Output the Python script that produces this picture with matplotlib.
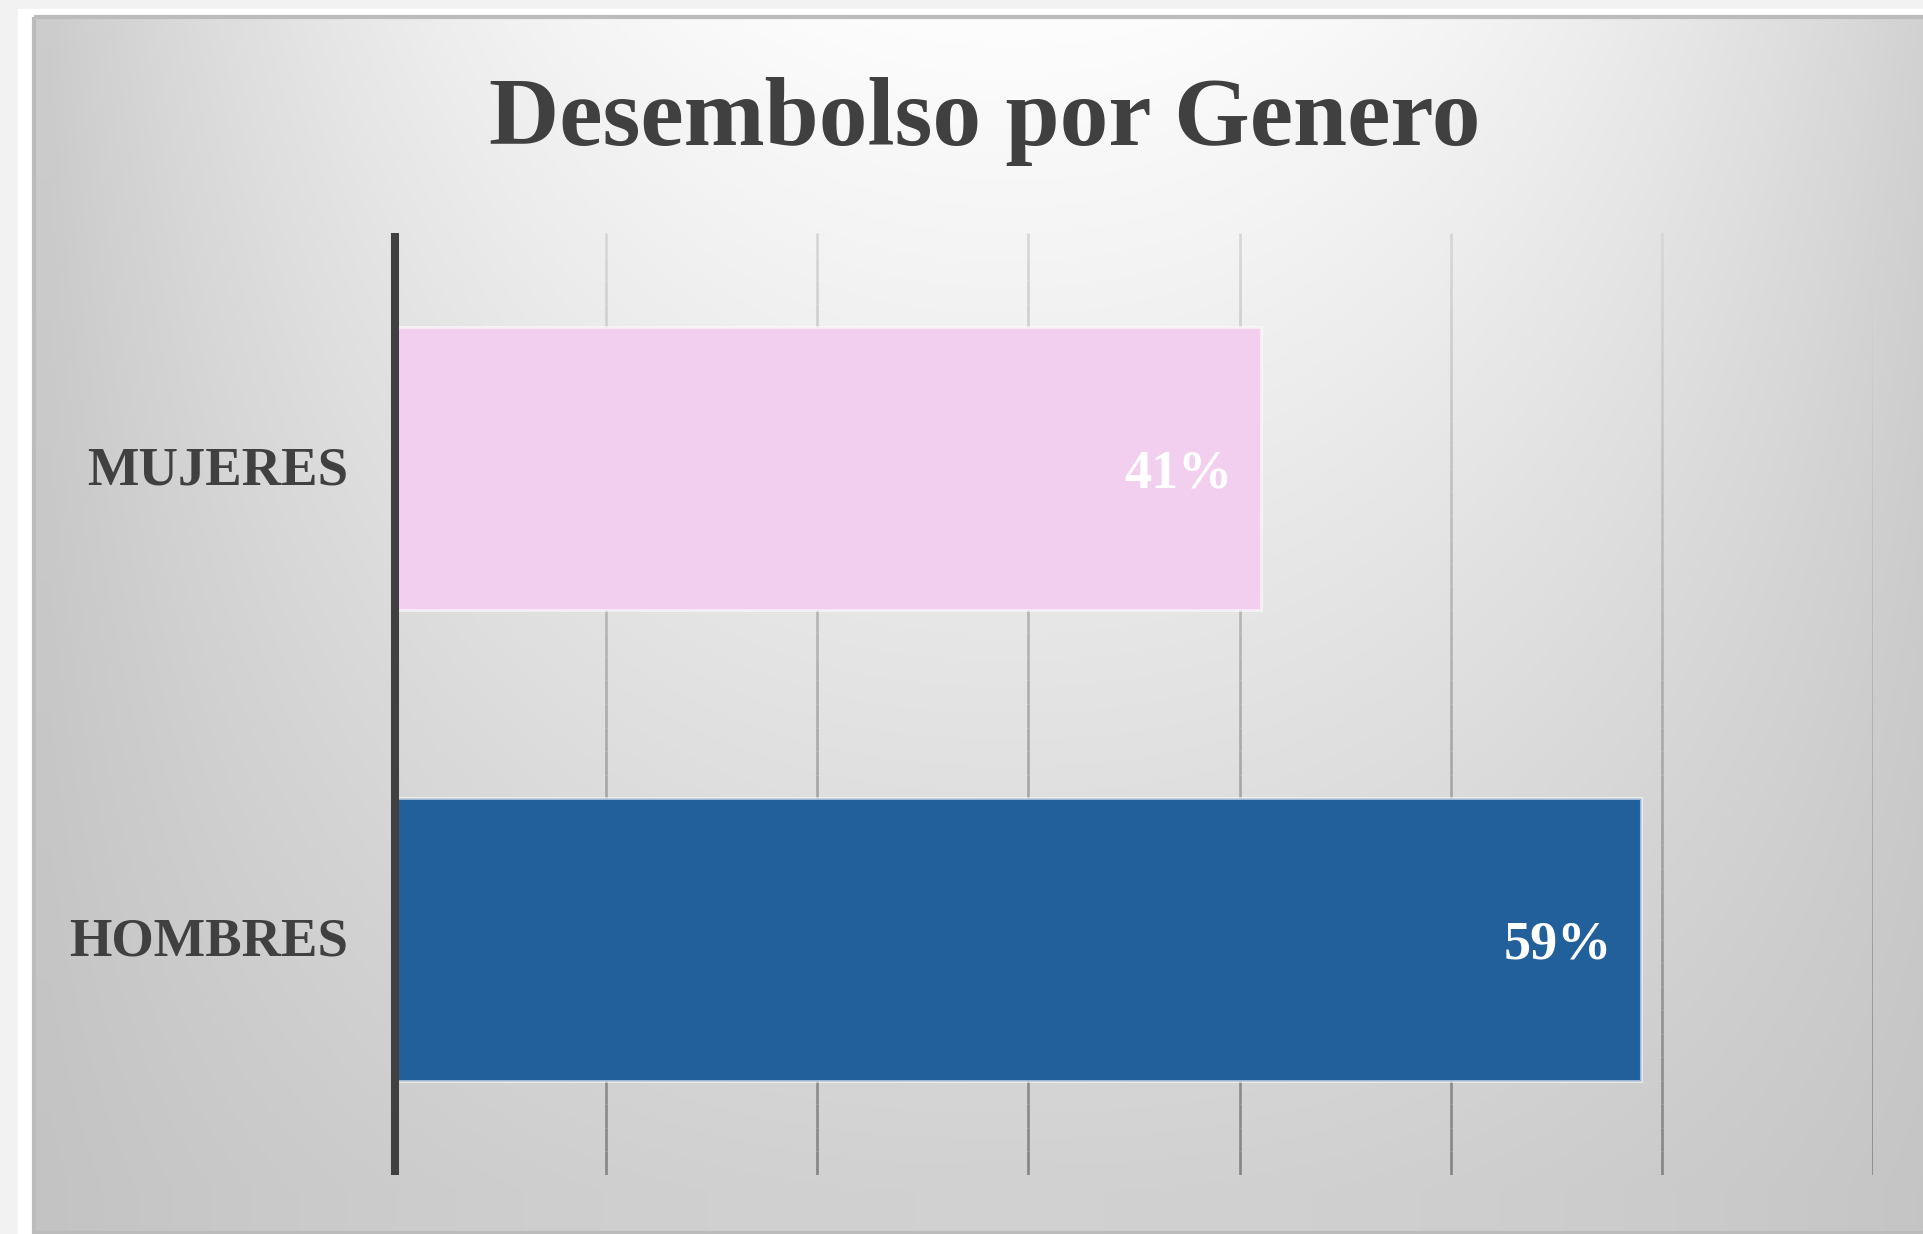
import numpy as np
import matplotlib
matplotlib.use('Agg')
import matplotlib.pyplot as plt
import matplotlib.patches as patches
import matplotlib.transforms as mtransforms
from matplotlib.collections import LineCollection

# data
categorias = ['HOMBRES', 'MUJERES']
valores = [0.59, 0.41]
colores = ['#21609b', '#f2cfee']
titulo = 'Desembolso por Genero'

W, H = 1924, 1234
fig = plt.figure(figsize=(W / 100, H / 100), dpi=100)
fig.patch.set_facecolor('#f2f2f2')

# background panel (pixel coords)
bg = fig.add_axes([0, 0, 1, 1])
bg.axis('off')
bg.add_patch(patches.Rectangle((18, 9), W - 18, H - 9, color='white', zorder=0))

px0, py0, px1, py1 = 34, 17, W + 12, 1233
xx, yy = np.meshgrid(np.arange(px0, px1), np.arange(py0, py1))
hx = 0.8 * np.clip(np.abs(xx - 1010) / 960.0, 0, 1) ** 2.2
vy = 0.72 * np.clip((yy - 20) / 1170.0, 0, 1)
drop = 1 - (1 - hx) * (1 - vy)
val = (253 - 61 * drop) / 255.0
img = np.dstack([val, val, val])
bg.imshow(img, extent=(px0, px1, py1, py0), aspect='auto', zorder=1, interpolation='bilinear')
bg.add_patch(patches.Rectangle((px0, py0), px1 - px0, py1 - py0, fill=False,
                               edgecolor='#bcbcbc', linewidth=3, zorder=2))
bg.set_xlim(0, W)
bg.set_ylim(H, 0)

fig.text(985 / W, 1 - 145 / H, titulo, ha='center', va='baseline',
         fontsize=70, fontweight='bold', family='Liberation Serif', color='#404040')

# main chart
left, right, top, bottom = 395, 1873, 233, 1175
ax = fig.add_axes([left / W, 1 - bottom / H, (right - left) / W, (bottom - top) / H])
ax.set_facecolor('none')
ax.set_xlim(0, 0.7)
ax.set_ylim(-0.5, 1.5)

# gridlines with a vertical gradient
segs = []
cols = []
n = 40
for gx in np.arange(0.1, 0.71, 0.1):
    ys = np.linspace(1.5, -0.5, n + 1)
    for k in range(n):
        segs.append([(gx, ys[k]), (gx, ys[k + 1])])
        t = k / (n - 1)
        g = (0.84 - 0.32 * t)
        cols.append((g, g, g))
lc = LineCollection(segs, colors=cols, linewidths=1.9, zorder=1, capstyle='butt')
ax.add_collection(lc)

ypos = np.arange(len(categorias))
ax.barh(ypos, valores, height=0.6, color=colores, edgecolor=(1, 1, 1, 0.55),
        linewidth=2.2, zorder=2)
for i, v in enumerate(valores):
    ax.text(v - 0.0135, i, '%d%%' % round(v * 100), ha='right', va='center_baseline',
            color='white', fontsize=39, fontweight='bold', family='Liberation Serif', zorder=4)

ax.set_yticks(ypos)
ax.set_yticklabels(categorias, fontsize=39.3, fontweight='bold', family='Liberation Serif',
                   color='#404040')
ax.tick_params(axis='y', length=0, pad=34)
up = mtransforms.ScaledTranslation(0, 3 / 100, fig.dpi_scale_trans)
for lab in ax.get_yticklabels():
    lab.set_transform(lab.get_transform() + up)
ax.set_xticks([])
for s in ['top', 'right', 'bottom']:
    ax.spines[s].set_visible(False)
ax.spines['left'].set_linewidth(5.8)
ax.spines['left'].set_color('#404040')
ax.spines['left'].set_capstyle('butt')
ax.spines['left'].set_zorder(3)

fig.savefig('out.png', dpi=100, facecolor=fig.get_facecolor())
